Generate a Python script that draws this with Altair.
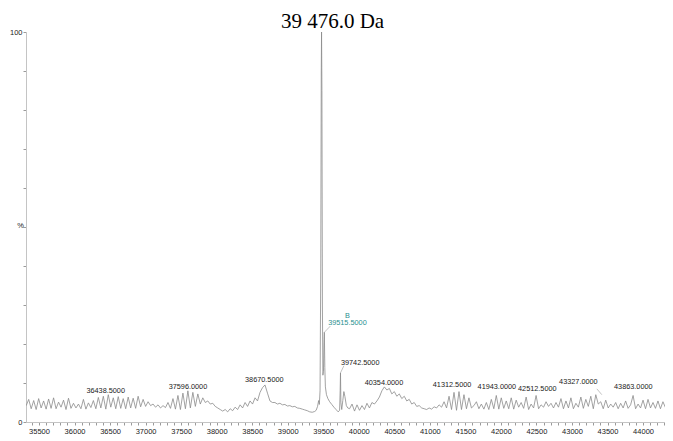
import altair as alt
import numpy as np
import pandas as pd

# ---- spectrum data (intensity in %) ----
seg1_start = 35320
seg1_step = 35
seg1_int = [
    4.2, 5.8, 3.4, 5.5, 3.2, 6.0, 3.6, 5.4, 3.3, 5.9,
    3.5, 6.2, 3.4, 5.1, 3.8, 5.6, 3.2, 6.1, 3.5, 4.8,
    3.6, 4.6, 3.4, 5.8, 3.3, 4.9, 3.7, 5.5, 3.4, 6.3,
    3.6, 6.6, 3.3, 7.0, 3.8, 6.2, 3.4, 6.5, 3.5, 6.0,
    3.4, 6.4, 3.6, 6.1, 3.5, 6.6, 3.9, 5.8, 4.0, 5.2,
    4.2, 4.6, 3.8, 4.4, 3.6, 4.2, 3.7, 5.0, 3.5, 6.0,
    3.3, 6.8, 3.2, 7.4, 3.4, 8.0, 3.6, 7.6, 4.0, 7.2,
    4.6, 6.2, 5.0, 5.4, 4.6, 4.8, 4.0, 3.6, 3.2, 2.8,
    3.2, 2.6, 3.4, 2.9, 3.8, 3.2, 4.4, 3.6, 5.0, 4.0,
    5.4, 4.6, 6.2, 5.4, 7.6, 8.8, 9.5, 7.4, 5.4, 5.0,
    5.0, 4.6, 4.8, 4.4, 4.5, 4.1, 4.2, 3.9, 4.0, 3.6,
    3.5, 3.3, 3.1, 2.9, 2.6, 2.5, 2.7,
]

peak_mass = [39400, 39420, 39435, 39445, 39455, 39465, 39472, 39476, 39481,
             39488, 39495, 39503, 39510, 39515.5, 39522, 39530, 39545, 39565,
             39590, 39620, 39650, 39680, 39710, 39730, 39738, 39742.5, 39748,
             39760, 39775, 39790, 39805, 39825, 39845]
peak_int = [3.0, 4.0, 5.5, 4.5, 8.0, 40.0, 90.0, 100.0, 85.0,
            30.0, 12.0, 13.0, 20.0, 23.0, 14.0, 9.0, 7.0, 6.0,
            5.2, 4.5, 3.8, 3.2, 2.6, 3.0, 8.0, 12.6, 5.0,
            3.2, 5.5, 7.8, 6.5, 4.2, 3.6]

seg2_start = 39870
seg2_step = 35
seg2_int = [
    3.4, 4.6, 2.8, 4.4, 3.0, 4.2, 3.2, 4.8, 3.6, 5.0,
    4.6, 5.4, 6.4, 8.0, 9.0, 8.2, 8.6, 7.2, 7.8, 6.6,
    7.2, 6.0, 6.6, 5.4, 5.8, 4.6, 5.0, 4.0, 4.2, 3.6,
    3.4, 3.2, 3.6, 3.3, 3.9, 3.6, 4.4, 3.8, 5.2, 3.6,
    6.6, 3.2, 7.6, 3.0, 7.8, 3.2, 7.0, 3.4, 6.2, 3.6,
    4.2, 5.2, 3.4, 4.6, 3.3, 5.0, 3.2, 5.8, 3.4, 6.8,
    3.3, 6.2, 3.5, 5.4, 3.4, 6.2, 3.3, 5.6, 3.8, 5.0,
    3.5, 6.4, 3.2, 4.6, 3.6, 6.8, 3.4, 4.4, 3.8, 5.2,
    4.0, 4.8, 3.6, 5.0, 3.8, 6.0, 3.4, 5.4, 3.6, 6.2,
    3.4, 4.8, 3.8, 6.4, 3.5, 5.8, 4.0, 6.6, 3.4, 7.0,
    4.6, 5.2, 3.4, 5.6, 3.6, 4.6, 3.8, 5.0, 3.4, 4.8,
    3.6, 5.4, 3.5, 4.4, 6.8, 3.4, 4.6, 3.6, 5.6, 3.4,
    5.8, 3.6, 5.0, 3.5, 5.4, 3.4, 5.2, 3.7, 4.8, 4.0,
]

mass = ([seg1_start + seg1_step * i for i in range(len(seg1_int))]
        + peak_mass
        + [seg2_start + seg2_step * i for i in range(len(seg2_int))])
intensity = seg1_int + peak_int + seg2_int
spec = pd.DataFrame({"mass": mass, "pct": intensity})

# ---- peak annotations (black) ----
label_text = ["36438.5000", "37596.0000", "38670.5000", "39742.5000",
              "40354.0000", "41312.5000", "41943.0000", "42512.5000", "43327.0000",
              "43863.0000"]
label_x = [36438.5, 37596.0, 38670.5, 40020, 40354.0, 41312.5, 41943.0,
           42512.5, 43090, 43863.0]
label_y = [8.0, 9.0, 10.8, 15.2, 10.1, 9.5, 9.0, 8.5, 10.3, 9.0]
labels = pd.DataFrame({"mass": label_x, "pct": label_y, "text": label_text})

# ---- teal annotation for peak B ----
tag_text = ["B", "39515.5000"]
tag_x = [39840, 39840]
tag_y = [27.3, 25.3]
tags = pd.DataFrame({"mass": tag_x, "pct": tag_y, "text": tag_text})

# leader lines: from peak top to label
lead_x = [39515.5, 39742.5, 43350]
lead_y = [23.0, 12.6, 8.5]
lead_x2 = [39600, 39790, 43420]
lead_y2 = [24.6, 14.4, 7.0]
leads = pd.DataFrame({"x": lead_x, "y": lead_y, "x2": lead_x2, "y2": lead_y2})

x_domain = [35317, 44309]
x_scale = alt.Scale(domain=x_domain, nice=False, zero=False)
y_scale = alt.Scale(domain=[0, 100], nice=False)

FONT = "Liberation Sans"

x_axis = alt.Axis(
    values=list(range(35400, 44301, 100)),
    labelExpr="datum.value % 500 == 0 ? datum.label : ''",
    format="d", tickSize=3, labelFontSize=7.5, labelFont=FONT,
    labelColor="#222222", labelPadding=2, labelOverlap=False, labelFlush=False,
    labelBound=False,
    domainColor="#c4c4c4", tickColor="#9a9a9a", grid=False,
    title="mass", titleFont=FONT, titleFontSize=7.5, titleFontWeight="normal",
    titleColor="#222222", titlePadding=4,
)
y_axis = alt.Axis(
    values=list(range(0, 101, 10)),
    labelExpr="datum.value == 0 || datum.value == 100 ? datum.label : ''",
    tickSize=3, labelFontSize=7.5, labelFont=FONT, labelColor="#222222",
    labelPadding=1, labelOverlap=False, domainColor="#c4c4c4",
    tickColor="#9a9a9a", grid=False,
    title="%", titleAngle=0, titleX=-6, titleY=193, titleAlign="center",
    titleBaseline="middle", titleFont=FONT, titleFontSize=7.5,
    titleFontWeight="normal", titleColor="#222222",
)


def X(field):
    return alt.X(field, type="quantitative", scale=x_scale, axis=x_axis)


def Y(field):
    return alt.Y(field, type="quantitative", scale=y_scale, axis=y_axis)


line = alt.Chart(spec).mark_line(color="#8a8a8a", strokeWidth=0.8, clip=True).encode(
    x=X("mass"), y=Y("pct"),
)

lead = alt.Chart(leads).mark_rule(color="#9a9a9a", strokeWidth=0.6).encode(
    x=X("x"), y=Y("y"), x2="x2:Q", y2="y2:Q",
)

text = alt.Chart(labels).mark_text(font=FONT, fontSize=7.3, color="#1a1a1a",
                                   baseline="middle", align="center").encode(
    x=X("mass"), y=Y("pct"), text="text:N",
)
tag = alt.Chart(tags).mark_text(font=FONT, fontSize=7.3, color="#2a9090",
                                baseline="middle", align="center").encode(
    x=X("mass"), y=Y("pct"), text="text:N",
)

chart = alt.layer(line, lead, text, tag).properties(
    width=639, height=390,
    autosize=alt.AutoSizeParams(type="none"),
    padding={"left": 18, "top": 24, "right": 0, "bottom": 30},
    title=alt.TitleParams(
        text="39 476.0 Da", font="Liberation Serif", fontSize=21,
        fontWeight="normal", color="#000000", anchor="middle", dx=-13,
        offset=0, dy=4,
    ),
).configure_view(stroke=None).configure_axis(labelOverlap=False)

chart.save("out.html", embed_options={"renderer": "svg", "actions": False})
